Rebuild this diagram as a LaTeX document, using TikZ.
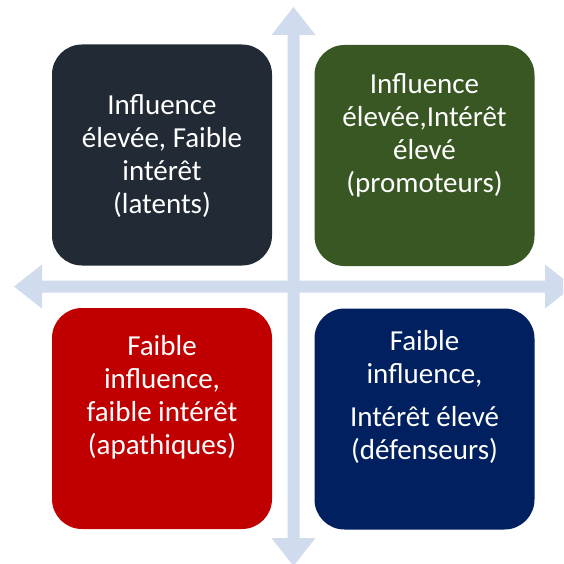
\documentclass[tikz,border=0pt]{standalone}
\usepackage{fontspec}
\setmainfont{Carlito}
\definecolor{axisblue}{HTML}{D0DBEE}
\definecolor{slate}{HTML}{222A35}
\definecolor{moss}{HTML}{385723}
\definecolor{crimson}{HTML}{C00000}
\definecolor{navy}{HTML}{002060}
\tikzset{
  quad/.style={rectangle, rounded corners=30pt, minimum width=220pt,
    minimum height=221pt, inner sep=0pt, draw=none},
  lbl/.style={text=white, align=center, inner sep=0pt,
    font=\fontsize{29}{33}\selectfont}
}
\begin{document}
\begin{tikzpicture}[x=1pt,y=-1pt]
  \useasboundingbox (0,0) rectangle (563,564);
  \clip (0,0) rectangle (563,564);
  % axis cross with four arrow heads
  \coordinate (o) at (293.5,286.5);
  \fill[axisblue]
    (287.5,35) -- (271.5,35) -- (293.5,7) -- (315.5,35) -- (299.5,35)
    -- (299.5,280.5) -- (545,280.5) -- (545,264.5) -- (573,286.5)
    -- (545,308.5) -- (545,292.5) -- (299.5,292.5) -- (299.5,538)
    -- (315.5,538) -- (293.5,566) -- (271.5,538) -- (287.5,538)
    -- (287.5,292.5) -- (42,292.5) -- (42,308.5) -- (14,286.5)
    -- (42,264.5) -- (42,280.5) -- (287.5,280.5) -- cycle;
  % quadrants
  \node[quad, fill=slate]   (tl) at (162,155) {};
  \node[quad, fill=moss]    (tr) at (424.5,155.5) {};
  \node[quad, fill=crimson] (bl) at (162,418.5) {};
  \node[quad, fill=navy]    (br) at (424.5,419) {};
  % labels
  \node[lbl, yshift=-1pt] (tltext) at (tl) {Influence\\élevée, Faible\\intérêt\\(latents)};
  \node[lbl, yshift=20pt] (trtext) at (tr) {Influence\\élevée,Intérêt\\élevé\\(promoteurs)};
  \node[lbl, yshift=21pt] (bltext) at (bl) {Faible\\influence,\\faible intérêt\\(apathiques)};
  \node[lbl, yshift=22pt] (brtext) at (br) {Faible\\influence,\\[10pt]Intérêt élevé\\(défenseurs)};
\end{tikzpicture}
\end{document}
